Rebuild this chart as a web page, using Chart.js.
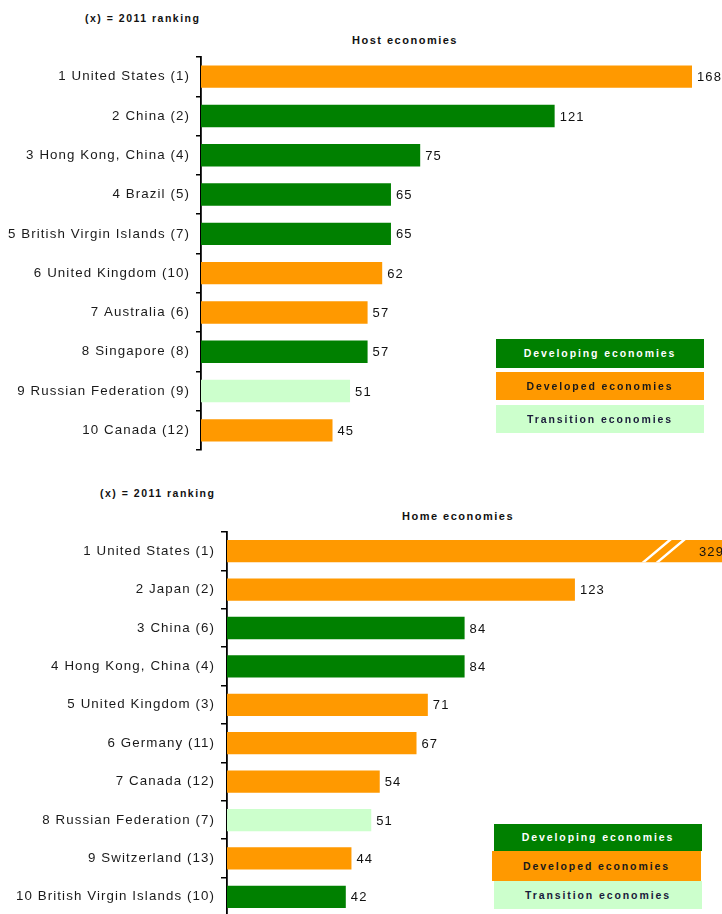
<!DOCTYPE html>
<html>
<head>
<meta charset="utf-8">
<script src="https://cdn.jsdelivr.net/npm/chart.js@4/dist/chart.umd.min.js"></script>
<style>
  html, body { margin: 0; padding: 0; background: #fff; overflow: hidden; }
  body { width: 722px; height: 914px; position: relative; font-family: "Liberation Sans", Arial, sans-serif; }
  canvas { position: absolute; left: 0; }
  .txt { position: absolute; font-weight: bold; white-space: nowrap; color: #111; }
  .note { font-size: 10.5px; letter-spacing: 1.5px; line-height: 14px; }
  .head { font-size: 11px; letter-spacing: 1.5px; line-height: 14px; }
  .key { position: absolute; font-weight: bold; font-size: 10.5px; letter-spacing: 1.9px; text-align: center; white-space: nowrap; }
</style>
</head>
<body>
<div class="txt note" style="left:85px; top:11px;">(x) = 2011 ranking</div>
<div class="txt head" style="left:352px; top:33px;">Host economies</div>
<canvas id="host" width="722" height="470" style="top:0px;"></canvas>

<div class="txt note" style="left:100px; top:486px;">(x) = 2011 ranking</div>
<div class="txt head" style="left:402px; top:509px;">Home economies</div>
<canvas id="home" width="722" height="470" style="top:460px;"></canvas>

<div id="keyHost"></div>
<div id="keyHome"></div>

<script>
// Top 10 host economies (FDI inflows, $ billion)
const hostCountries = ['1 United States (1)', '2 China (2)', '3 Hong Kong, China (4)', '4 Brazil (5)',
  '5 British Virgin Islands (7)', '6 United Kingdom (10)', '7 Australia (6)', '8 Singapore (8)',
  '9 Russian Federation (9)', '10 Canada (12)'];
const hostValues = [168, 121, 75, 65, 65, 62, 57, 57, 51, 45];
const hostGroups = ['developed', 'developing', 'developing', 'developing', 'developing',
  'developed', 'developed', 'developing', 'transition', 'developed'];

// Top 10 home economies (FDI outflows, $ billion)
const homeCountries = ['1 United States (1)', '2 Japan (2)', '3 China (6)', '4 Hong Kong, China (4)',
  '5 United Kingdom (3)', '6 Germany (11)', '7 Canada (12)', '8 Russian Federation (7)',
  '9 Switzerland (13)', '10 British Virgin Islands (10)'];
const homeValues = [329, 123, 84, 84, 71, 67, 54, 51, 44, 42];
const homeGroups = ['developed', 'developed', 'developing', 'developing', 'developed',
  'developed', 'developed', 'transition', 'developed', 'developing'];

const groupNames = ['developing', 'developed', 'transition'];
const groupLabels = ['Developing economies', 'Developed economies', 'Transition economies'];
const groupColors = { developing: '#008000', developed: '#FF9900', transition: '#CCFFCC' };
const groupText = { developing: '#ffffff', developed: '#1a1a1a', transition: '#1a1a3a' };

Chart.defaults.font.family = '"Liberation Sans", Arial, sans-serif';
Chart.defaults.font.size = 13;
Chart.defaults.color = '#1a1a1a';

// wider tracking for all canvas text
const tracking = {
  id: 'tracking',
  beforeLayout(chart) { chart.ctx.letterSpacing = '1.1px'; },
  beforeDraw(chart) { chart.ctx.letterSpacing = '1.1px'; }
};

// value labels; bars running past the axis end get a break mark and an inside label
const valueLabels = {
  id: 'valueLabels',
  afterDatasetsDraw(chart) {
    const ctx = chart.ctx;
    const area = chart.chartArea;
    const xMax = chart.scales.x.max;
    const meta = chart.getDatasetMeta(0);
    const values = chart.data.datasets[0].data;
    ctx.save();
    ctx.letterSpacing = '1.1px';
    ctx.font = '13px "Liberation Sans", Arial, sans-serif';
    ctx.textBaseline = 'middle';
    ctx.textAlign = 'left';
    meta.data.forEach((bar, i) => {
      const v = values[i];
      const { y, height } = bar.getProps(['y', 'height'], true);
      const top = y - height / 2, bottom = y + height / 2;
      if (v > xMax) {
        ctx.save();
        ctx.beginPath();
        ctx.rect(area.left, top, area.right - area.left, height);
        ctx.clip();
        ctx.strokeStyle = '#ffffff';
        ctx.lineWidth = 2.5;
        ctx.beginPath();
        ctx.moveTo(area.right - 80, bottom + 1);
        ctx.lineTo(area.right - 51, top - 1);
        ctx.moveTo(area.right - 66, bottom + 1);
        ctx.lineTo(area.right - 37, top - 1);
        ctx.stroke();
        ctx.restore();
        ctx.fillStyle = '#111';
        ctx.fillText(String(v), area.right - 23, y + 1);
      } else {
        const { x } = bar.getProps(['x'], true);
        ctx.fillStyle = '#111';
        ctx.fillText(String(v), x + 5, y + 1);
      }
    });
    ctx.restore();
  }
};

function makeChart(id, labels, values, groups, cfg) {
  return new Chart(document.getElementById(id), {
    type: 'bar',
    data: {
      labels: labels,
      datasets: [{
        data: values,
        backgroundColor: groups.map(g => groupColors[g]),
        borderWidth: 0,
        barPercentage: cfg.barPct,
        categoryPercentage: 1,
        clip: 0
      }]
    },
    options: {
      indexAxis: 'y',
      responsive: false,
      animation: false,
      devicePixelRatio: 1,
      layout: { padding: cfg.padding },
      plugins: { legend: { display: false }, tooltip: { enabled: false } },
      scales: {
        x: { display: false, min: 0, max: cfg.xMax },
        y: {
          offset: true,
          afterFit(scale) { scale.width = cfg.axisX; },
          grid: {
            offset: true, drawOnChartArea: false, drawTicks: true,
            tickLength: cfg.tickLen, color: '#000', lineWidth: 1.5
          },
          border: { display: true, color: '#000', width: 1.8 },
          ticks: { padding: 6, color: '#1a1a1a', font: { size: 13.3 } }
        }
      }
    },
    plugins: [tracking, valueLabels]
  });
}

makeChart('host', hostCountries, hostValues, hostGroups, {
  xMax: 168, axisX: 201, tickLen: 5, barPct: 0.57,
  padding: { top: 57, bottom: 20, left: 0, right: 30 }
});
makeChart('home', homeCountries, homeValues, homeGroups, {
  xMax: 175, axisX: 227, tickLen: 6, barPct: 0.58,
  padding: { top: 72, bottom: 9, left: 0, right: 0 }
});

// colour keys
function makeKey(holderId, boxes) {
  const holder = document.getElementById(holderId);
  groupNames.forEach((g, i) => {
    const b = boxes[i];
    const d = document.createElement('div');
    d.className = 'key';
    d.textContent = groupLabels[i];
    Object.assign(d.style, {
      left: b[0] + 'px', top: b[1] + 'px', width: b[2] + 'px', height: b[3] + 'px',
      lineHeight: b[3] + 'px', background: groupColors[g], color: groupText[g]
    });
    holder.appendChild(d);
  });
}
makeKey('keyHost', [[496, 339, 208, 29], [496, 372, 208, 28], [496, 405, 208, 28]]);
makeKey('keyHome', [[494, 824, 208, 27], [492, 851, 209, 30], [494, 881, 208, 28]]);
</script>
</body>
</html>
